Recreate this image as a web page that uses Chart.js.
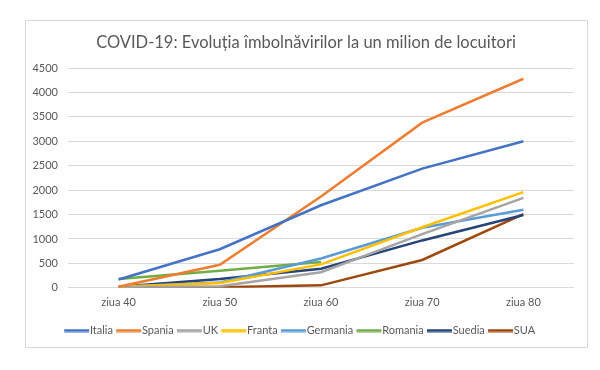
<!DOCTYPE html>
<html>
<head>
<meta charset="utf-8">
<script src="https://cdn.jsdelivr.net/npm/chart.js@4"></script>
<style>
  html, body { margin: 0; padding: 0; background: #fff; }
  #wrap { width: 600px; height: 370px; position: relative; }
</style>
</head>
<body>
<div id="wrap"><canvas id="chart" width="600" height="370"></canvas></div>
<script>
const days = ['ziua 40', 'ziua 50', 'ziua 60', 'ziua 70', 'ziua 80']

const italia = [170, 790, 1690, 2440, 3000]
const spania = [20, 470, 1870, 3380, 4280]
const uk = [10, 30, 320, 1100, 1840]
const franta = [20, 100, 480, 1240, 1960]
const germania = [20, 110, 600, 1230, 1600]
const romania = [180, 350, 530, null, null]
const suedia = [20, 180, 390, 970, 1490]
const sua = [5, 10, 50, 570, 1510]

const chartTitle = 'COVID-19: Evoluția îmbolnăvirilor la un milion de locuitori'

const series = [
    ['Italia', italia, '#4472C4'],
    ['Spania', spania, '#ED7D31'],
    ['UK', uk, '#A5A5A5'],
    ['Franta', franta, '#FFC000'],
    ['Germania', germania, '#5B9BD5'],
    ['Romania', romania, '#70AD47'],
    ['Suedia', suedia, '#264478'],
    ['SUA', sua, '#9E480E'],
]

const FONT = 'Lato, "Open Sans", sans-serif'
const TXT = '#595959'

// excel style frame + title (title sits a bit right of the plot centre)
const framePlugin = {
    id: 'frame',
    beforeDraw: (chart) => {
        const ctx = chart.ctx
        ctx.save()
        ctx.fillStyle = '#fff'
        ctx.fillRect(0, 0, chart.width, chart.height)
        ctx.strokeStyle = '#d9d9d9'
        ctx.lineWidth = 1
        ctx.strokeRect(25.5, 20.5, 562, 327)
        ctx.fillStyle = TXT
        ctx.font = '16.5px ' + FONT
        ctx.textAlign = 'center'
        ctx.textBaseline = 'middle'
        ctx.fillText(chartTitle, 306, 43)
        ctx.restore()
    },
}

// legend swatch: 25px line, shifted so text sits right after it
const makeSwatch = (color) => {
    const c = document.createElement('canvas')
    c.width = 50
    c.height = 4
    const g = c.getContext('2d')
    g.strokeStyle = color
    g.lineWidth = 3
    g.beginPath()
    g.moveTo(15, 2)
    g.lineTo(40, 2)
    g.stroke()
    return c
}

const datasets = series.map(s => ({
    label: s[0],
    data: s[1],
    borderColor: s[2],
    backgroundColor: s[2],
    borderWidth: 2.5,
    pointRadius: 0,
    pointStyle: makeSwatch(s[2]),
    tension: 0,
    spanGaps: false,
}))

new Chart(document.getElementById('chart'), {
    type: 'line',
    data: { labels: days, datasets: datasets },
    plugins: [framePlugin],
    options: {
        responsive: false,
        animation: false,
        layout: { padding: { left: 25, right: 26, top: 68, bottom: 24 } },
        plugins: {
            title: { display: false },
            legend: {
                position: 'bottom',
                labels: {
                    color: TXT,
                    font: { family: FONT, size: 11 },
                    usePointStyle: true,
                    pointStyleWidth: 20.5,
                    boxHeight: 10,
                    padding: 3,
                },
            },
            tooltip: { enabled: false },
        },
        scales: {
            x: {
                offset: true,
                afterFit: (scale) => { scale.height += 13 },
                grid: { display: false },
                border: { display: false },
                ticks: { color: TXT, font: { family: FONT, size: 11 }, padding: 0 },
            },
            y: {
                min: 0,
                max: 4500,
                afterFit: (scale) => { scale.width = 43 },
                grid: { color: '#d9d9d9', drawTicks: false },
                border: { display: false },
                ticks: {
                    stepSize: 500,
                    color: TXT,
                    font: { family: FONT, size: 11 },
                    padding: 10,
                    callback: (v) => String(v),
                },
            },
        },
    },
})
</script>
</body>
</html>
